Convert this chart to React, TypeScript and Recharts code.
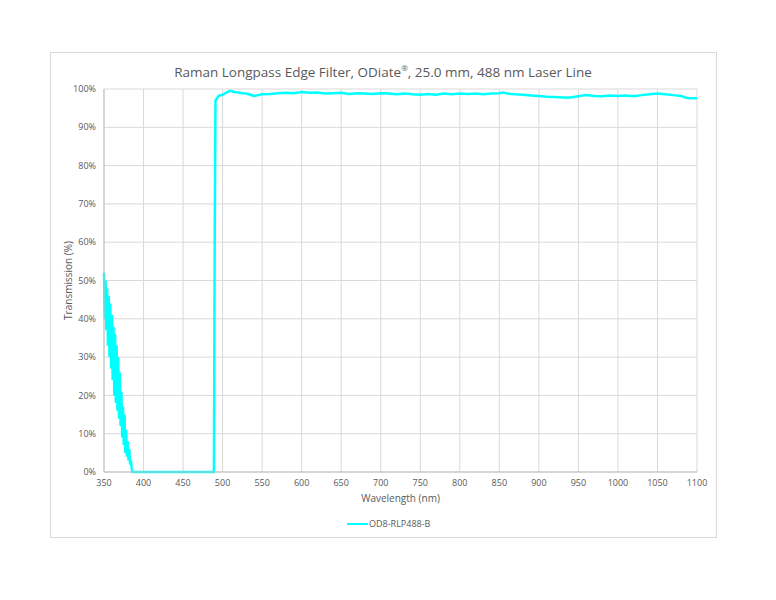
import { LineChart, Line, XAxis, YAxis, CartesianGrid } from "recharts";

const wavelengths = [
    350, 351, 352, 353, 354, 355, 356, 357, 358, 359, 360, 361, 362, 363, 364, 365, 366, 367, 368, 369,
    370, 371, 372, 373, 374, 375, 376, 377, 378, 379, 380, 381, 382, 383, 384, 385, 386, 400, 450, 489,
    490, 491, 493, 495, 500, 505, 510, 515, 520, 525, 530, 535, 540, 545, 550, 560, 570, 580, 590, 600,
    610, 620, 630, 640, 650, 660, 670, 680, 690, 700, 710, 720, 730, 740, 750, 760, 770, 780, 790, 800,
    810, 820, 830, 840, 850, 855, 860, 870, 880, 890, 900, 910, 920, 930, 940, 950, 960, 970, 980, 990,
    1000, 1010, 1020, 1030, 1040, 1050, 1060, 1070, 1080, 1085, 1090, 1100,
];

const transmission = [
    52, 40, 50, 37, 48, 33, 46, 30, 44, 27, 41, 24, 38, 20, 36, 18, 33, 16, 30, 14,
    26, 12, 21, 9, 17, 7, 15, 5, 11, 4, 8, 3, 6, 2, 3, 1, 0, 0, 0, 0,
    60, 97, 97.6, 98.2, 98.5, 99.1, 99.5, 99.2, 99.1, 98.9, 98.8, 98.5, 98.2, 98.4, 98.6, 98.7, 98.9, 99.0, 98.9, 99.2,
    99.0, 99.1, 98.8, 98.9, 99.0, 98.7, 98.9, 98.8, 98.7, 98.9, 98.8, 98.6, 98.8, 98.6, 98.5, 98.7, 98.5, 98.8, 98.6, 98.8,
    98.7, 98.8, 98.6, 98.8, 98.9, 99.1, 98.8, 98.6, 98.5, 98.3, 98.2, 98.0, 97.9, 97.8, 97.8, 98.1, 98.4, 98.2, 98.1, 98.3,
    98.2, 98.3, 98.1, 98.4, 98.6, 98.8, 98.6, 98.4, 98.2, 97.8, 97.6, 97.6,
];

const xTicks = [350, 400, 450, 500, 550, 600, 650, 700, 750, 800, 850, 900, 950, 1000, 1050, 1100];
const yTicks = [0, 10, 20, 30, 40, 50, 60, 70, 80, 90, 100];

const seriesName = "OD8-RLP488-B";

const data = wavelengths.map((w, i) => ({ w, t: transmission[i] }));

const textColor = "#595959";
const lineColor = "#00FFFF";
const font = "'Open Sans', 'Liberation Sans', sans-serif";

export default function App() {
    return (
        <div style={pageStyle}>
            <div style={frameStyle} />
            <div style={titleStyle}>
                Raman Longpass Edge Filter, ODiate<sup style={{ fontSize: 8 }}>®</sup>, 25.0 mm, 488 nm Laser Line
            </div>
            <div style={{ position: "absolute", left: 0, top: 0 }}>
                <LineChart
                    width={776}
                    height={600}
                    data={data}
                    margin={{ top: 89, right: 79, bottom: 98, left: 64 }}
                >
                    <CartesianGrid stroke="#d9d9d9" strokeWidth={1} />
                    <XAxis
                        dataKey="w"
                        type="number"
                        domain={[350, 1100]}
                        ticks={xTicks}
                        tickLine={false}
                        stroke="#bfbfbf"
                        height={30}
                        tick={{ fill: textColor, fontSize: 9, fontFamily: font }}
                        label={{
                            value: "Wavelength (nm)",
                            position: "insideBottom",
                            offset: 0,
                            fill: textColor,
                            fontSize: 10,
                            fontFamily: font,
                        }}
                    />
                    <YAxis
                        type="number"
                        domain={[0, 100]}
                        ticks={yTicks}
                        tickLine={false}
                        stroke="#bfbfbf"
                        width={40}
                        tickFormatter={(v: number) => `${v}%`}
                        tick={{ fill: textColor, fontSize: 9, fontFamily: font }}
                        label={{
                            value: "Transmission (%)",
                            angle: -90,
                            position: "insideLeft",
                            offset: 4,
                            style: { textAnchor: "middle" },
                            fill: textColor,
                            fontSize: 10,
                            fontFamily: font,
                        }}
                    />
                    <Line
                        type="linear"
                        dataKey="t"
                        name={seriesName}
                        stroke={lineColor}
                        strokeWidth={2.5}
                        dot={false}
                        isAnimationActive={false}
                    />
                </LineChart>
            </div>
            <div style={legendStyle}>
                <span style={{ display: "inline-block", width: 21, height: 2, background: lineColor, marginRight: 1, verticalAlign: "middle" }} />
                <span style={{ verticalAlign: "middle" }}>{seriesName}</span>
            </div>
        </div>
    );
}

const pageStyle: React.CSSProperties = {
    position: "absolute",
    left: 0,
    top: 0,
    width: 776,
    height: 600,
    background: "#fff",
};

const frameStyle: React.CSSProperties = {
    position: "absolute",
    left: 50,
    top: 52,
    width: 665,
    height: 484,
    border: "1px solid #d9d9d9",
};

const titleStyle: React.CSSProperties = {
    position: "absolute",
    left: 0,
    top: 58,
    width: 766,
    textAlign: "center",
    fontFamily: font,
    fontSize: 13.5,
    color: textColor,
    lineHeight: "20px",
};

const legendStyle: React.CSSProperties = {
    position: "absolute",
    left: 347,
    top: 516,
    fontFamily: font,
    fontSize: 9,
    color: textColor,
    whiteSpace: "nowrap",
};
